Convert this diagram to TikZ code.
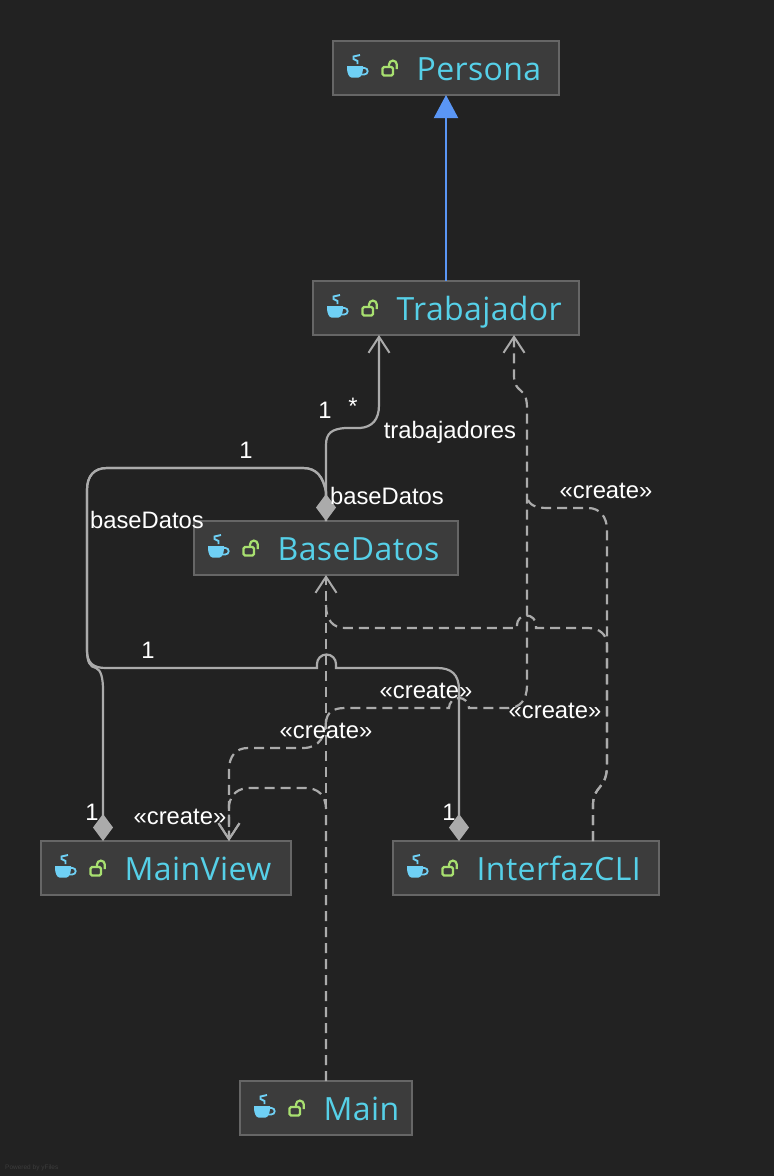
\documentclass[tikz,border=0pt]{standalone}
\usepackage{fontspec}
\setmainfont{Liberation Sans}
\newfontfamily\classfont[LetterSpace=1.2]{Open Sans}
\usetikzlibrary{arrows.meta,calc}

\definecolor{bgdark}{HTML}{222222}
\definecolor{boxfill}{HTML}{3C3C3C}
\definecolor{boxline}{HTML}{666666}
\definecolor{edgegray}{HTML}{ABABAB}
\definecolor{inheritblue}{HTML}{5A96F5}
\definecolor{classcyan}{HTML}{56D0E8}
\definecolor{cupblue}{HTML}{6FD0F5}
\definecolor{lockgreen}{HTML}{A8E070}

\tikzset{
	classbox/.style={draw=boxline, fill=boxfill, line width=1.3pt, inner sep=0pt, outer sep=0pt, minimum height=54pt},
	classtext/.style={anchor=base west, inner sep=0pt, text=classcyan, font=\classfont\fontsize{32}{36}\selectfont},
	lbl/.style={inner sep=0pt, text=white, font=\fontsize{23.8}{26}\selectfont},
	compose/.style={draw=edgegray, line width=2.2pt},
	usesdep/.style={draw=edgegray, line width=2.2pt, dash pattern=on 10pt off 6pt},
	openhead/.tip={Straight Barb[length=16pt,width=21pt,line width=2pt]},
	fillhead/.tip={Diamond[length=27pt,width=20pt,fill=edgegray]},
	classicons/.pic={
		\fill[cupblue] (14,25) -- (30,25) -- (30,27) .. controls (30,32) and (28,36.5) .. (25.5,36.5) -- (18.5,36.5) .. controls (16,36.5) and (14,32) .. (14,27) -- cycle;
		\draw[cupblue, line width=1.8pt] (29,27) -- (31.5,27) arc (-90:90:3.2) -- (27,33.4);
		\draw[cupblue, line width=1.9pt] (27,14) -- (20.5,15.5) -- (20.5,18) -- (24.5,20) -- (24.5,23);
		\draw[lockgreen, line width=2.2pt, rounded corners=1.5pt] (49.5,26) rectangle (60,34.5);
		\draw[lockgreen, line width=2.2pt] (56,25.5) -- (56,23.5) arc (180:360:3.9) -- (63.8,28);
	}
}

\begin{document}
\begin{tikzpicture}[x=1pt, y=-1pt]
	\fill[bgdark] (0,0) rectangle (774,1176);
	\useasboundingbox (0,0) rectangle (774,1176);

	\foreach \n/\l/\x/\y/\w in {persona/Persona/446/68/226, trabajador/Trabajador/446/308/266, basedatos/BaseDatos/326/548/264, mainview/MainView/166/868/250, interfazcli/InterfazCLI/526/868/266, main/Main/326/1108/172} {
		\node[classbox, minimum width=\w pt] (\n) at (\x,\y) {};
		\pic at (\n.north west) {classicons};
		\node[classtext] (\n text) at ($(\n.north west)+(83.5,39)$) {\l};
	}

	% inheritance
	\draw[draw=inheritblue, line width=2pt, -{Triangle[length=23pt,width=24pt,fill=inheritblue]}] (trabajador.north) -- (persona.south);

	% composition
	\draw[compose, -{openhead}] (basedatos.north) -- (326,445) .. controls (326,433) and (332,429) .. (345,428) -- (360,428) .. controls (372,427) and (379,420) .. (379,405) -- ($(trabajador.south)+(-67,0)$);
	\draw[compose, {fillhead}-{fillhead}] (basedatos.north) -- (326,492) .. controls (323,476) and (316,468) .. (303,468) -- (107,468) .. controls (94,468) and (87,476) .. (87,490) -- (87,650) .. controls (87,662) and (90,667) .. (96,668) .. controls (101,670) and (103,678) .. (103,690) -- ($(mainview.north)+(-63,0)$);
	\draw[compose, -{fillhead}] (basedatos.north) -- (326,492) .. controls (323,476) and (316,468) .. (303,468) -- (107,468) .. controls (94,468) and (87,476) .. (87,490) -- (87,650) .. controls (87,663) and (93,668) .. (106,668) -- (317,668) -- (317,664) arc (180:360:9.5) -- (336,668) -- (437,668) .. controls (451,668) and (459,674) .. (459,690) -- ($(interfazcli.north)+(-67,0)$);

	% create
	\coordinate (joinright) at (527,497);
	\coordinate (joinmid) at (326,605);
	\draw[usesdep, -{openhead}] (main.north) -- (basedatos.south);
	\draw[usesdep, -{openhead}] (main.north) -- (326,810) .. controls (326,795) and (318,788) .. (305,788) -- (250,788) .. controls (238,788) and (231,794) .. (229,805) -- ($(mainview.north)+(63,0)$);
	\draw[usesdep, -{openhead}] (326,720) .. controls (326,735) and (320,748) .. (303,748) -- (248,748) .. controls (236,748) and (229,756) .. (229,770) -- ($(mainview.north)+(63,0)$);
	\draw[usesdep, -{openhead}] (326,722) .. controls (327,713) and (332,708) .. (345,708) -- (449,708) arc (180:360:10) -- (508,708) .. controls (520,708) and (527,700) .. (527,685) -- (527,408) .. controls (527,385) and (514,395) .. (514,375) -- ($(trabajador.south)+(68,0)$);
	\draw[usesdep] ($(interfazcli.north)+(67,0)$) -- (593,805) .. controls (593,785) and (607,790) .. (607,765) -- (607,645) .. controls (607,635) and (600,628) .. (588,628) -- (536,628) -- (536,625) arc (0:-180:9.5) -- (517,628) -- (345,628) .. controls (333,628) and (326,620) .. (joinmid);
	\draw[usesdep] ($(interfazcli.north)+(67,0)$) -- (593,805) .. controls (593,785) and (607,790) .. (607,765) -- (607,530) .. controls (607,517) and (600,508) .. (588,508) -- (548,508) .. controls (535,508) and (529,505) .. (joinright);

	\node[lbl] (trabone) at (325,410) {1};
	\node[lbl] (trabstar) at (353,406) {*};
	\node[lbl] (trablbl) at (450,432) {trabajadores};
	\node[lbl] (dbtop) at (387,496) {baseDatos};
	\node[lbl] (oneleft) at (246,450) {1};
	\node[lbl] (dbleft) at (147,520) {baseDatos};
	\node[lbl] (onemid) at (148,650) {1};
	\node[lbl] (oneview) at (92,812) {1};
	\node[lbl] (onecli) at (449,812) {1};
	\node[lbl] (createa) at (606,491) {«create»};
	\node[lbl] (createb) at (426,691) {«create»};
	\node[lbl] (createc) at (555,711) {«create»};
	\node[lbl] (created) at (326,731) {«create»};
	\node[lbl] (createe) at (180,817) {«create»};

	\node[anchor=west, inner sep=0pt, text=boxfill, font=\fontsize{6.5}{8}\selectfont] (yfiles) at (5,1168) {Powered by yFiles};
\end{tikzpicture}
\end{document}
